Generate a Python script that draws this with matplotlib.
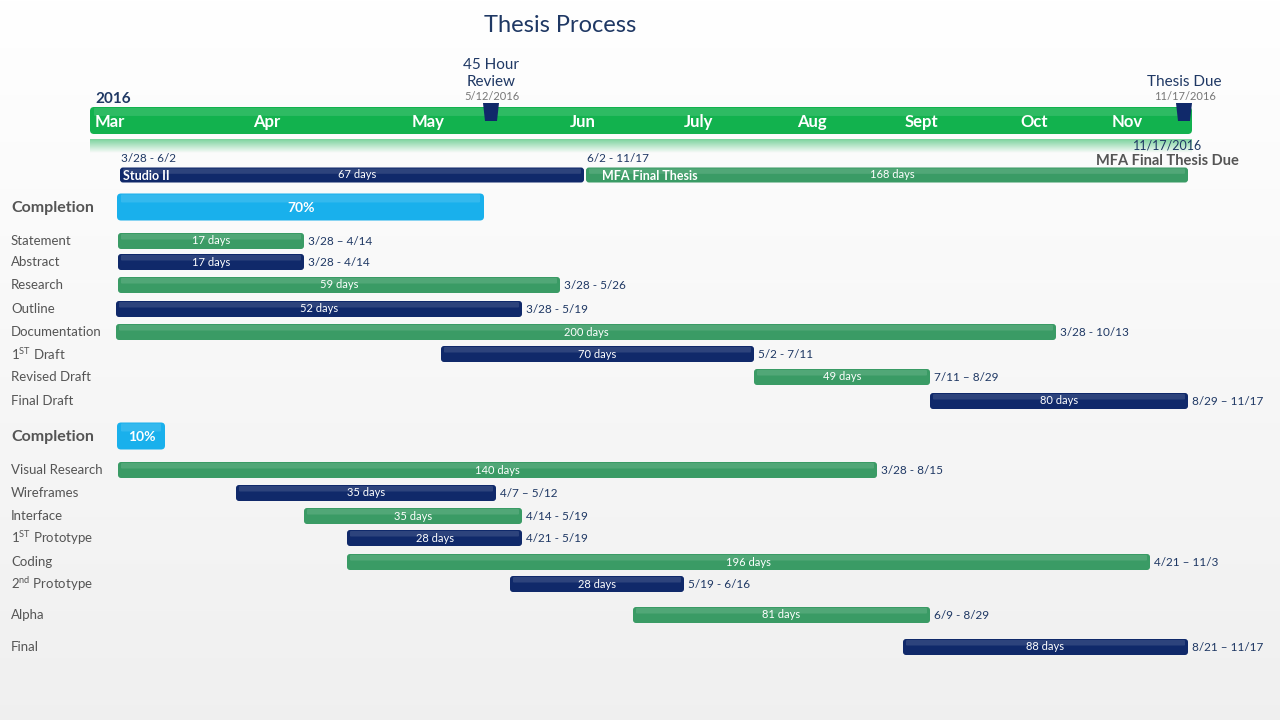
import numpy as np
import matplotlib.pyplot as plt
from matplotlib.patches import FancyBboxPatch, Polygon

plt.rcParams['font.family'] = ['Lato', 'DejaVu Sans']
plt.rcParams['mathtext.default'] = 'regular'

# Datos de la línea de tiempo (unidades de la escala horizontal del cronograma)
months = ['Mar', 'Apr', 'May', 'Jun', 'July', 'Aug', 'Sept', 'Oct', 'Nov']
month_pos = [110, 267, 428, 583, 699, 812, 921, 1034, 1127]

milestones = ['45 Hour\nReview', 'Thesis Due']
milestone_dates = ['5/12/2016', '11/17/2016']
milestone_pos = [491, 1184]

# Fases principales
phases = ['Studio II', 'MFA Final Thesis']
phase_start = [120, 586]
phase_end = [584, 1188]
phase_days = ['67 days', '168 days']
phase_range = ['3/28 - 6/2', '6/2 - 11/17']

# Sección 1: escritura
tasks1 = ['Statement', 'Abstract', 'Research', 'Outline', 'Documentation',
          '1$^{ST}$ Draft', 'Revised Draft', 'Final Draft']
start1 = [118, 118, 118, 116, 116, 441, 754, 930]
end1 = [304, 304, 560, 522, 1056, 754, 930, 1188]
days1 = [17, 17, 59, 52, 200, 70, 49, 80]
range1 = ['3/28 – 4/14', '3/28 - 4/14', '3/28 - 5/26', '3/28 - 5/19',
          '3/28 - 10/13', '5/2 - 7/11', '7/11 – 8/29', '8/29 – 11/17']
rows1 = [241, 262, 285, 309, 332, 354, 377, 401]
completion1 = 70

# Sección 2: proyecto
tasks2 = ['Visual Research', 'Wireframes', 'Interface', '1$^{ST}$ Prototype',
          'Coding', '2$^{nd}$ Prototype', 'Alpha', 'Final']
start2 = [118, 236, 304, 347, 347, 510, 633, 903]
end2 = [877, 496, 522, 522, 1150, 684, 930, 1188]
days2 = [140, 35, 35, 28, 196, 28, 81, 88]
range2 = ['3/28 - 8/15', '4/7 – 5/12', '4/14 - 5/19', '4/21 - 5/19',
          '4/21 – 11/3', '5/19 - 6/16', '6/9 - 8/29', '8/21 – 11/17']
rows2 = [470, 493, 516, 538, 562, 584, 615, 647]
completion2 = 10

GREEN = '#3a9b65'
NAVY = '#10296a'
BLUE = '#19b0ec'
TL_GREEN = '#12b24e'
TXT_NAVY = '#1f3864'
GRAY = '#555555'

fig = plt.figure(figsize=(12.8, 7.2), dpi=100)
ax = fig.add_axes([0, 0, 1, 1])
ax.set_xlim(0, 1280)
ax.set_ylim(720, 0)
ax.axis('off')

# fondo con degradado
grad = np.linspace(1.0, 0.94, 256).reshape(-1, 1)
ax.imshow(np.dstack([grad, grad, grad]), extent=[0, 1280, 720, 0], aspect='auto', zorder=0)


def bar(x0, x1, yc, color, h=16, rad=3, z=2):
    p = FancyBboxPatch((x0 + rad, yc - h / 2 + rad), x1 - x0 - 2 * rad, h - 2 * rad,
                       boxstyle=f'round,pad={rad}', fc=color, ec='none', zorder=z)
    ax.add_patch(p)
    # brillo superior
    hl = FancyBboxPatch((x0 + rad + 1, yc - h / 2 + 2), x1 - x0 - 2 * rad - 2, h * 0.22,
                        boxstyle='round,pad=1', fc='white', ec='none', alpha=0.12, zorder=z + 0.1)
    ax.add_patch(hl)


ax.text(560, 25, 'Thesis Process', ha='center', va='center', fontsize=17, color=TXT_NAVY)

# barra de la línea de tiempo
bar(90, 1192, 120.5, TL_GREEN, h=27, rad=4)
rgba = np.zeros((64, 1, 4))
rgba[..., 0] = 0.07
rgba[..., 1] = 0.70
rgba[..., 2] = 0.31
rgba[:, 0, 3] = np.linspace(0.55, 0.0, 64)
ax.imshow(rgba, extent=[90, 1192, 153, 139], aspect='auto', zorder=1)
ax.text(95, 99, '2016', ha='left', va='center', fontsize=11, fontweight='bold', color=TXT_NAVY)
for m, x in zip(months, month_pos):
    ax.text(x, 122, m, ha='center', va='center', fontsize=12, fontweight='bold', color='white', zorder=5)

for name, d, x in zip(milestones, milestone_dates, milestone_pos):
    ax.add_patch(Polygon([[x - 8, 103], [x + 8, 103], [x + 6, 121], [x - 6, 121]],
                         closed=True, fc=NAVY, ec='none', zorder=6))
    ax.text(x, 89, name, ha='center', va='bottom', fontsize=11, color=TXT_NAVY, linespacing=1.3)
    ax.text(x + 1, 97, d, ha='center', va='center', fontsize=8, color='#777777')

ax.text(1168, 145, '11/17/2016', ha='center', va='center', fontsize=9, color=TXT_NAVY)
ax.text(1167, 161, 'MFA Final Thesis Due', ha='center', va='center', fontsize=10.5,
        fontweight='bold', color=GRAY)

# fases
for i, (p, s, e, dd, r) in enumerate(zip(phases, phase_start, phase_end, phase_days, phase_range)):
    c = NAVY if i == 0 else GREEN
    bar(s, e, 175, c, h=15)
    ax.text(s + 3 + 13 * i, 175.5, p, ha='left', va='center', fontsize=9, fontweight='bold', color='white', zorder=5)
    ax.text((s + e) / 2 + 5, 174.5, dd, ha='center', va='center', fontsize=8, color='white', zorder=5)
    ax.text(s + 1, 159, r, ha='left', va='center', fontsize=8.5, color=TXT_NAVY)


def section(tasks, start, end, days, ranges, rows, comp, comp_y, comp_end):
    ax.text(11, comp_y + 1, 'Completion', ha='left', va='center', fontsize=11.5, fontweight='bold', color=GRAY)
    bar(start[0] - 1, comp_end, comp_y, BLUE, h=27, rad=4)
    ax.text((start[0] + comp_end) / 2, comp_y + 1, f'{comp}%', ha='center', va='center',
            fontsize=10, fontweight='bold', color='white', zorder=5)
    for i, (t, s, e, d, r, y) in enumerate(zip(tasks, start, end, days, ranges, rows)):
        c = GREEN if i % 2 == 0 else NAVY
        ax.text(11, y, t, ha='left', va='center', fontsize=9.5, color=GRAY)
        bar(s, e, y, c)
        ax.text((s + e) / 2, y, f'{d} days', ha='center', va='center', fontsize=8, color='white', zorder=5)
        ax.text(e + 4, y + 0.5, r, ha='left', va='center', fontsize=8.5, color=TXT_NAVY)


section(tasks1, start1, end1, days1, range1, rows1, completion1, 207, 484)
section(tasks2, start2, end2, days2, range2, rows2, completion2, 436, 165)

fig.savefig('out.png', dpi=100)
